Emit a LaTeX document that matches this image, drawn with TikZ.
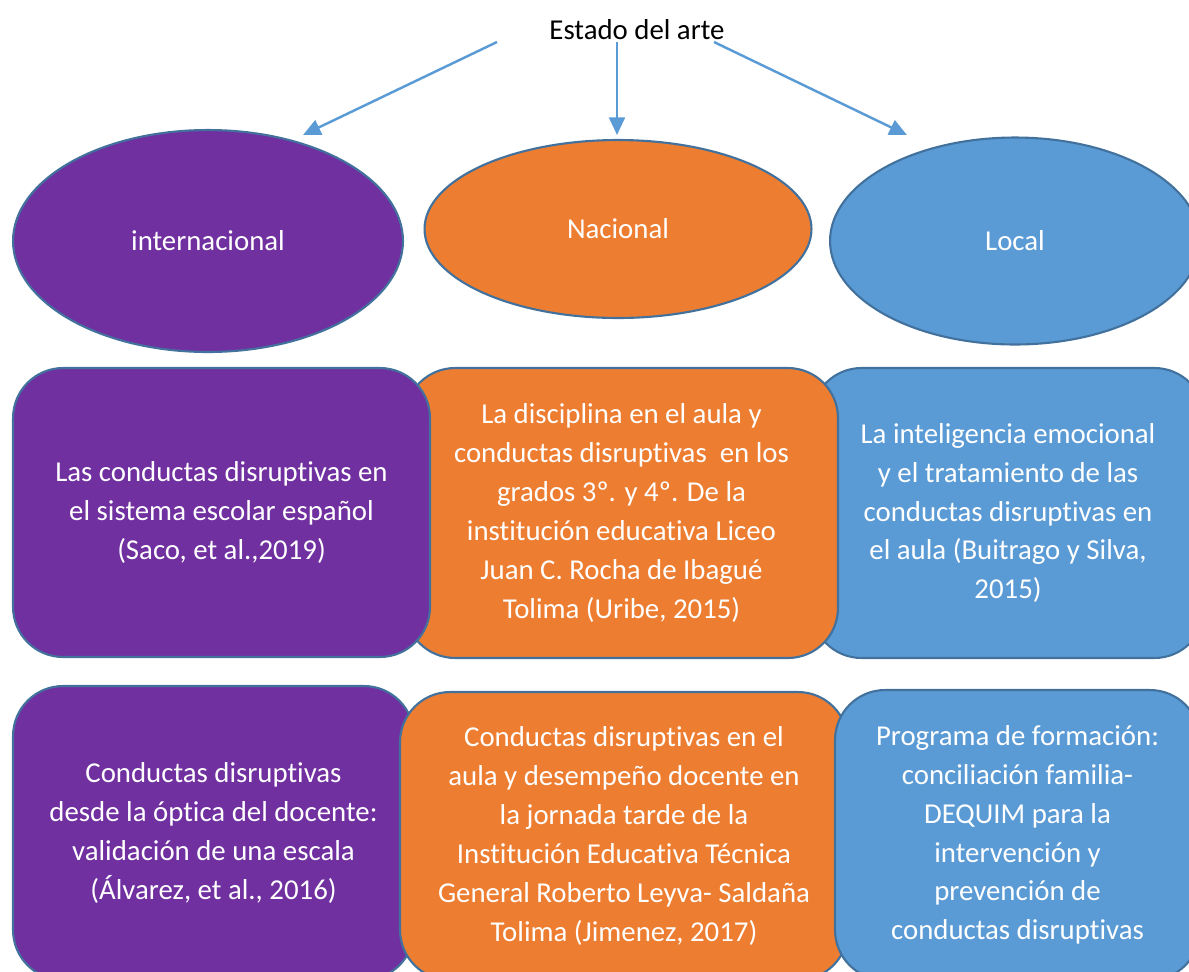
\documentclass[tikz,border=0pt]{standalone}
\usepackage{fontspec}
\setmainfont{Carlito}[Ligatures=NoCommon]
\usetikzlibrary{shapes.geometric,arrows.meta}
\definecolor{morado}{HTML}{7030A0}
\definecolor{naranja}{HTML}{ED7D31}
\definecolor{azul}{HTML}{5B9BD5}
\definecolor{borde}{HTML}{41719C}
\tikzset{
    every node/.style={font=\fontsize{16.4}{22.1}\selectfont, align=center,
    	inner sep=0pt}
}
\tikzset{
    elipse/.style={ellipse, draw=borde, line width=1.2pt, text=white},
    caja/.style={rectangle, rounded corners=1cm, draw=borde, line width=1.2pt,
    	text=white}
}
\tikzset{
	flecha/.style={draw=azul, line width=1.4pt, -{Triangle[length=10pt,width=9pt]}}
}

\begin{document}
\begin{tikzpicture}[x=0.02cm,y=-0.02cm]
	\useasboundingbox (0,0) rectangle (1189,971);
	\clip (0,0) rectangle (1189,971);
	\node (arte) at (637,30) {Estado del arte};
	\coordinate (s1) at (497,42);
	\coordinate (s2) at (617,42);
	\coordinate (s3) at (714,42);
	\coordinate (t1) at (303,135);
	\coordinate (t2) at (617,135);
	\coordinate (t3) at (907,135);
	\draw [flecha] (s1) -- (t1); \draw [flecha] (s2) -- (t2); \draw [flecha] (s3) -- (t3);
	\node [elipse, fill=morado, minimum width=7.8cm, minimum height=4.44cm] (int) at (208,241) {internacional};
	\node [elipse, fill=naranja, minimum width=7.74cm, minimum height=3.56cm] (nac) at (618,229) {Nacional};
	\node [elipse, fill=azul, minimum width=7.4cm, minimum height=4.14cm] (loc) at (1015,241) {Local};
	\node [caja, fill=azul, minimum width=7.86cm, minimum height=5.8cm] (loc1) at (1008,513) {La inteligencia emocional\\ y el tratamiento de las\\ conductas disruptivas en\\ el aula (Buitrago y Silva,\\ 2015)};
	\node [caja, fill=naranja, minimum width=8.66cm, minimum height=5.8cm] (nac1) at (621.5,513) {La disciplina en el aula y\\ conductas disruptivas\ \ en los\\ grados 3º. y 4º. De la\\ institución educativa Liceo\\ Juan C. Rocha de Ibagué\\ Tolima (Uribe, 2015)};
	\node [caja, fill=morado, minimum width=8.34cm, minimum height=5.78cm] (int1) at (221.5,512.5) {Las conductas disruptivas en\\ el sistema escolar español\\ (Saco, et al.,2019)};
	\node [caja, fill=morado, minimum width=8.02cm, minimum height=5.88cm] (int2) at (213.5,833) {Conductas disruptivas\\ desde la óptica del docente:\\ validación de una escala\\ (Álvarez, et al., 2016)};
	\node [caja, fill=naranja, minimum width=8.96cm, minimum height=5.76cm] (nac2) at (624,836) {Conductas disruptivas en el\\ aula y desempeño docente en\\ la jornada tarde de la\\ Institución Educativa Técnica\\ General Roberto Leyva- Saldaña\\ Tolima (Jimenez, 2017)};
	\node [caja, fill=azul, minimum width=7.3cm, minimum height=5.8cm] (loc2) at (1017.5,835) {Programa de formación:\\ conciliación familia-\\ DEQUIM para la\\ intervención y\\ prevención de\\ conductas disruptivas};
\end{tikzpicture}
\end{document}
